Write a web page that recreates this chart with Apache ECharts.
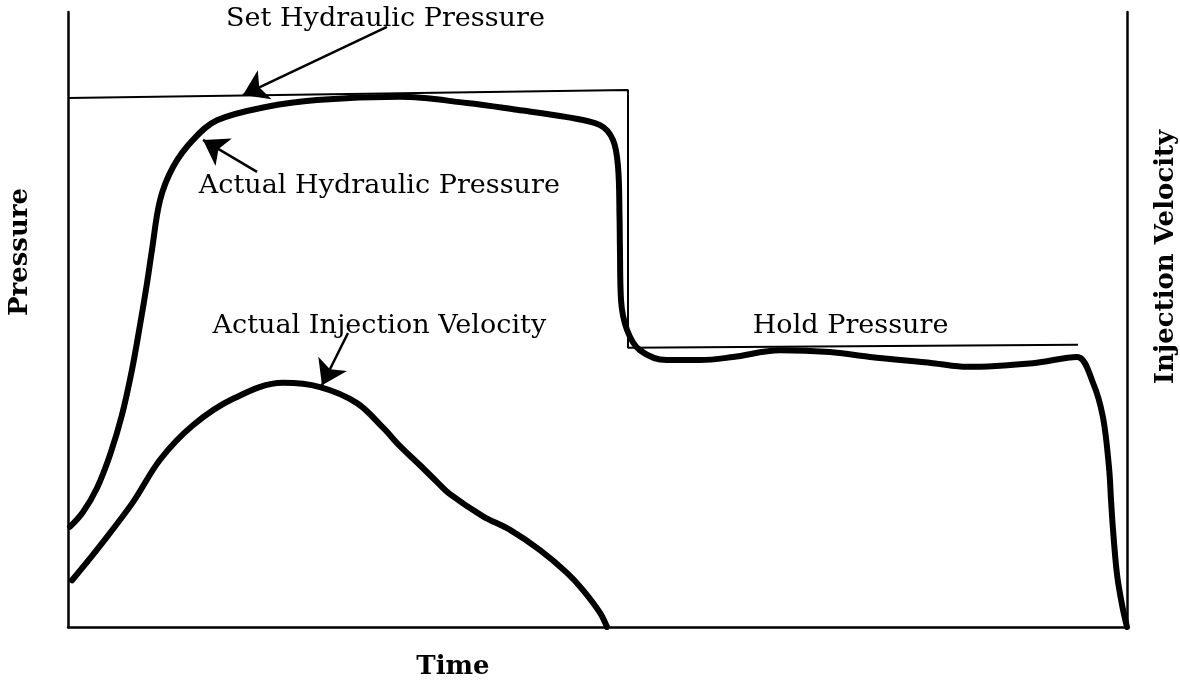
<!DOCTYPE html>
<html><head><meta charset="utf-8">
<script src="https://cdn.jsdelivr.net/npm/echarts@6/dist/echarts.min.js"></script>
<style>html,body{margin:0;padding:0;background:#fff}#c{width:1180px;height:683px}</style>
</head><body><div id="c"></div>
<script>
// ---- data (time 0..100, pressure / velocity 0..100, arbitrary units) ----
const setTime = [0, 52.88, 52.88, 95.37];
const setPressure = [86.0, 87.3, 45.4, 45.9];

const actualTime = [0.19, 1.42, 2.74, 3.97, 5.10, 6.04, 6.80, 7.46, 7.93, 8.69, 9.92, 11.80, 14.07, 18.79, 23.51, 31.35, 37.68, 42.40, 47.12, 50.24, 51.46, 51.94, 52.08, 52.12, 52.22, 52.79, 54.01, 56.56, 59.68, 62.79, 67.23, 71.95, 75.73, 81.68, 84.89, 91.12, 95.28, 96.79, 97.73, 98.30, 98.49, 98.68, 99.06, 99.53, 100];
const actualPressure = [16.3, 18.7, 22.6, 28.0, 34.5, 41.8, 49.1, 55.9, 61.3, 69.4, 74.8, 79.2, 82.4, 84.6, 85.7, 86.2, 85.2, 84.1, 82.9, 81.6, 79.2, 74.8, 66.7, 61.3, 53.2, 48.3, 45.0, 43.4, 43.4, 43.9, 45.0, 44.7, 43.9, 42.9, 42.3, 42.9, 43.9, 39.7, 34.1, 26.0, 20.7, 15.8, 8.5, 3.6, 0];

const velTime = [0.38, 3.02, 6.14, 8.69, 11.80, 15.58, 20.30, 23.80, 27.29, 29.75, 31.35, 33.24, 34.84, 36.07, 39.19, 41.74, 44.57, 47.12, 48.63, 50.24, 50.90];
const velocity = [7.6, 13.2, 20.3, 27.2, 32.8, 37.1, 39.7, 39.0, 36.4, 32.4, 29.4, 26.3, 23.6, 21.6, 18.0, 15.8, 12.5, 8.8, 6.0, 2.3, 0];

const xAxisName = 'Time';
const leftAxisName = 'Pressure';
const rightAxisName = 'Injection Velocity';

const labelTexts = ['Set Hydraulic Pressure', 'Actual Hydraulic Pressure', 'Actual Injection Velocity', 'Hold Pressure'];
const labelTime = [29.98, 29.4, 29.4, 73.9];
const labelValue = [98.9, 71.6, 48.9, 48.9];

const arrowFromTime = [30.12, 17.85, 26.44];
const arrowFromValue = [97.6, 74.0, 47.8];
const arrowToTime = [16.52, 12.75, 23.98];
const arrowToValue = [86.5, 79.2, 39.3];

// ---- build ----
const zip = (a, b) => a.map((v, i) => [v, b[i]]);
const FONT = 'DejaVu Serif';
const chart = echarts.init(document.getElementById('c'), null, {renderer: 'canvas'});

const axisCommon = {
  type: 'value', min: 0, max: 100,
  axisTick: {show: false}, axisLabel: {show: false}, splitLine: {show: false},
  axisLine: {show: true, onZero: false, lineStyle: {color: '#000', width: 2.5}}
};

const arrows = arrowFromTime.map((t, i) => [
  {coord: [t, arrowFromValue[i]]},
  {coord: [arrowToTime[i], arrowToValue[i]]}
]);

chart.setOption({
  animation: false,
  backgroundColor: '#fff',
  grid: {left: 68, right: 53, top: 12, bottom: 56, containLabel: false, outerBoundsMode: 'none'},
  xAxis: Object.assign({}, axisCommon),
  yAxis: [
    Object.assign({}, axisCommon, {position: 'left'}),
    Object.assign({}, axisCommon, {position: 'right'})
  ],
  series: [
    {
      name: 'Set Hydraulic Pressure', type: 'line', yAxisIndex: 0,
      data: zip(setTime, setPressure), showSymbol: false, silent: true,
      lineStyle: {color: '#000', width: 2},
      markLine: {
        silent: true, animation: false,
        symbol: ['none', 'arrow'], symbolSize: 24,
        label: {show: false},
        lineStyle: {color: '#000', width: 2.5, type: 'solid'},
        data: arrows
      }
    },
    {
      name: 'Actual Hydraulic Pressure', type: 'line', yAxisIndex: 0,
      data: zip(actualTime, actualPressure), showSymbol: false, silent: true,
      smooth: 0.35,
      lineStyle: {color: '#000', width: 6, cap: 'round', join: 'round'}
    },
    {
      name: 'Actual Injection Velocity', type: 'line', yAxisIndex: 1,
      data: zip(velTime, velocity), showSymbol: false, silent: true,
      smooth: 0.35,
      lineStyle: {color: '#000', width: 6, cap: 'round', join: 'round'}
    }
  ]
});

const graphics = labelTexts.map((txt, i) => {
  const p = chart.convertToPixel({gridIndex: 0}, [labelTime[i], labelValue[i]]);
  return {
    type: 'text', x: p[0], y: p[1], scaleX: 1.04, silent: true,
    style: {text: txt, fontFamily: FONT, fontSize: 26, fill: '#000', align: 'center', verticalAlign: 'middle'}
  };
});
const titleStyle = {fontFamily: FONT, fontWeight: 'bold', fontSize: 26, fill: '#000', align: 'center', verticalAlign: 'middle'};
graphics.push(
  {type: 'text', x: 20, y: 252, rotation: Math.PI / 2, silent: true, style: Object.assign({text: leftAxisName}, titleStyle)},
  {type: 'text', x: 1166, y: 257, rotation: Math.PI / 2, silent: true, style: Object.assign({text: rightAxisName}, titleStyle)},
  {type: 'text', x: 453, y: 667, silent: true, style: Object.assign({text: xAxisName}, titleStyle)}
);
chart.setOption({graphic: graphics});
</script>
</body></html>
